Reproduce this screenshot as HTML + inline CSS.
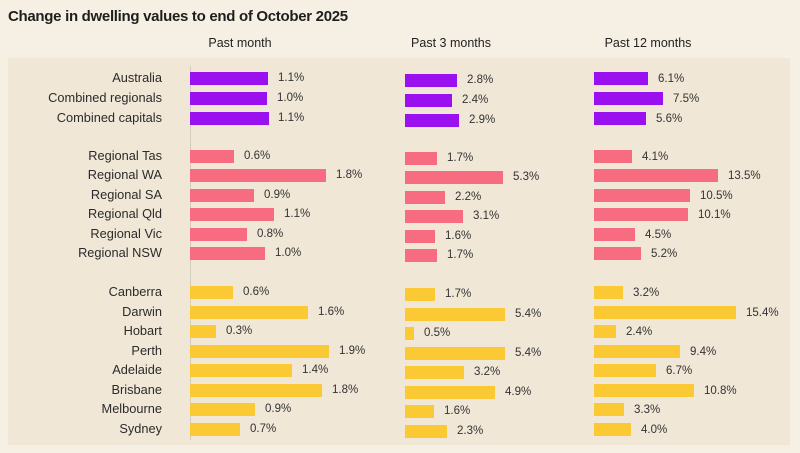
<!DOCTYPE html>
<html><head><meta charset="utf-8"><style>
body{margin:0;width:800px;height:453px;background:#f6f0e4;font-family:"Liberation Sans",sans-serif;position:relative;overflow:hidden;color:#2b2b2b}
.t{position:absolute;left:8px;top:8px;font-size:15px;font-weight:bold;color:#1e1e1e;letter-spacing:-0.3px}
.h{position:absolute;top:36px;font-size:12.5px;width:160px;text-align:center;color:#222}
.panel{position:absolute;left:8px;top:58px;width:782px;height:387px;background:#f0e7d7}
.ax{position:absolute;left:190px;top:66px;width:1px;height:374px;background:#d3ccc0}
.l{position:absolute;width:162px;left:0;text-align:right;font-size:12.8px;color:#2b2b2b;line-height:14px}
.b{position:absolute;height:13px}
.v{position:absolute;font-size:11.5px;line-height:14px;color:#333}
.p{background:#9a10ef}.r{background:#f76c80}.y{background:#fbc934}
</style></head><body>
<div class="t">Change in dwelling values to end of October 2025</div>
<div class="panel"></div>
<div class="h" style="left:160px">Past month</div>
<div class="h" style="left:371px">Past 3 months</div>
<div class="h" style="left:568px">Past 12 months</div>
<div class="ax"></div>

<div class="l" style="top:71px">Australia</div>
<div class="l" style="top:91px">Combined regionals</div>
<div class="l" style="top:111px">Combined capitals</div>
<div class="l" style="top:149px">Regional Tas</div>
<div class="l" style="top:168px">Regional WA</div>
<div class="l" style="top:188px">Regional SA</div>
<div class="l" style="top:207px">Regional Qld</div>
<div class="l" style="top:227px">Regional Vic</div>
<div class="l" style="top:246px">Regional NSW</div>
<div class="l" style="top:285px">Canberra</div>
<div class="l" style="top:305px">Darwin</div>
<div class="l" style="top:324px">Hobart</div>
<div class="l" style="top:344px">Perth</div>
<div class="l" style="top:363px">Adelaide</div>
<div class="l" style="top:383px">Brisbane</div>
<div class="l" style="top:402px">Melbourne</div>
<div class="l" style="top:422px">Sydney</div>

<!-- Past month -->
<div class="b p" style="left:190px;top:72px;width:78px"></div><div class="v" style="left:278px;top:71px">1.1%</div>
<div class="b p" style="left:190px;top:92px;width:77px"></div><div class="v" style="left:277px;top:91px">1.0%</div>
<div class="b p" style="left:190px;top:112px;width:79px"></div><div class="v" style="left:278px;top:111px">1.1%</div>
<div class="b r" style="left:190px;top:150px;width:44px"></div><div class="v" style="left:244px;top:149px">0.6%</div>
<div class="b r" style="left:190px;top:169px;width:136px"></div><div class="v" style="left:336px;top:168px">1.8%</div>
<div class="b r" style="left:190px;top:189px;width:64px"></div><div class="v" style="left:264px;top:188px">0.9%</div>
<div class="b r" style="left:190px;top:208px;width:84px"></div><div class="v" style="left:284px;top:207px">1.1%</div>
<div class="b r" style="left:190px;top:228px;width:57px"></div><div class="v" style="left:257px;top:227px">0.8%</div>
<div class="b r" style="left:190px;top:247px;width:75px"></div><div class="v" style="left:275px;top:246px">1.0%</div>
<div class="b y" style="left:190px;top:286px;width:43px"></div><div class="v" style="left:243px;top:285px">0.6%</div>
<div class="b y" style="left:190px;top:306px;width:118px"></div><div class="v" style="left:318px;top:305px">1.6%</div>
<div class="b y" style="left:190px;top:325px;width:26px"></div><div class="v" style="left:226px;top:324px">0.3%</div>
<div class="b y" style="left:190px;top:345px;width:139px"></div><div class="v" style="left:339px;top:344px">1.9%</div>
<div class="b y" style="left:190px;top:364px;width:102px"></div><div class="v" style="left:302px;top:363px">1.4%</div>
<div class="b y" style="left:190px;top:384px;width:132px"></div><div class="v" style="left:332px;top:383px">1.8%</div>
<div class="b y" style="left:190px;top:403px;width:65px"></div><div class="v" style="left:265px;top:402px">0.9%</div>
<div class="b y" style="left:190px;top:423px;width:50px"></div><div class="v" style="left:250px;top:422px">0.7%</div>

<!-- Past 3 months -->
<div class="b p" style="left:405px;top:74px;width:52px"></div><div class="v" style="left:467px;top:73px">2.8%</div>
<div class="b p" style="left:405px;top:94px;width:47px"></div><div class="v" style="left:462px;top:93px">2.4%</div>
<div class="b p" style="left:405px;top:114px;width:54px"></div><div class="v" style="left:469px;top:113px">2.9%</div>
<div class="b r" style="left:405px;top:152px;width:32px"></div><div class="v" style="left:447px;top:151px">1.7%</div>
<div class="b r" style="left:405px;top:171px;width:98px"></div><div class="v" style="left:513px;top:170px">5.3%</div>
<div class="b r" style="left:405px;top:191px;width:40px"></div><div class="v" style="left:455px;top:190px">2.2%</div>
<div class="b r" style="left:405px;top:210px;width:58px"></div><div class="v" style="left:473px;top:209px">3.1%</div>
<div class="b r" style="left:405px;top:230px;width:30px"></div><div class="v" style="left:445px;top:229px">1.6%</div>
<div class="b r" style="left:405px;top:249px;width:32px"></div><div class="v" style="left:447px;top:248px">1.7%</div>
<div class="b y" style="left:405px;top:288px;width:30px"></div><div class="v" style="left:445px;top:287px">1.7%</div>
<div class="b y" style="left:405px;top:308px;width:100px"></div><div class="v" style="left:515px;top:307px">5.4%</div>
<div class="b y" style="left:405px;top:327px;width:9px"></div><div class="v" style="left:424px;top:326px">0.5%</div>
<div class="b y" style="left:405px;top:347px;width:100px"></div><div class="v" style="left:515px;top:346px">5.4%</div>
<div class="b y" style="left:405px;top:366px;width:59px"></div><div class="v" style="left:474px;top:365px">3.2%</div>
<div class="b y" style="left:405px;top:386px;width:90px"></div><div class="v" style="left:505px;top:385px">4.9%</div>
<div class="b y" style="left:405px;top:405px;width:29px"></div><div class="v" style="left:444px;top:404px">1.6%</div>
<div class="b y" style="left:405px;top:425px;width:42px"></div><div class="v" style="left:457px;top:424px">2.3%</div>

<!-- Past 12 months -->
<div class="b p" style="left:594px;top:72px;width:54px"></div><div class="v" style="left:658px;top:72px">6.1%</div>
<div class="b p" style="left:594px;top:92px;width:69px"></div><div class="v" style="left:673px;top:92px">7.5%</div>
<div class="b p" style="left:594px;top:112px;width:52px"></div><div class="v" style="left:656px;top:112px">5.6%</div>
<div class="b r" style="left:594px;top:150px;width:38px"></div><div class="v" style="left:642px;top:150px">4.1%</div>
<div class="b r" style="left:594px;top:169px;width:124px"></div><div class="v" style="left:728px;top:169px">13.5%</div>
<div class="b r" style="left:594px;top:189px;width:96px"></div><div class="v" style="left:700px;top:189px">10.5%</div>
<div class="b r" style="left:594px;top:208px;width:94px"></div><div class="v" style="left:698px;top:208px">10.1%</div>
<div class="b r" style="left:594px;top:228px;width:41px"></div><div class="v" style="left:645px;top:228px">4.5%</div>
<div class="b r" style="left:594px;top:247px;width:47px"></div><div class="v" style="left:651px;top:247px">5.2%</div>
<div class="b y" style="left:594px;top:286px;width:29px"></div><div class="v" style="left:633px;top:286px">3.2%</div>
<div class="b y" style="left:594px;top:306px;width:142px"></div><div class="v" style="left:746px;top:306px">15.4%</div>
<div class="b y" style="left:594px;top:325px;width:22px"></div><div class="v" style="left:626px;top:325px">2.4%</div>
<div class="b y" style="left:594px;top:345px;width:86px"></div><div class="v" style="left:690px;top:345px">9.4%</div>
<div class="b y" style="left:594px;top:364px;width:62px"></div><div class="v" style="left:666px;top:364px">6.7%</div>
<div class="b y" style="left:594px;top:384px;width:100px"></div><div class="v" style="left:704px;top:384px">10.8%</div>
<div class="b y" style="left:594px;top:403px;width:30px"></div><div class="v" style="left:634px;top:403px">3.3%</div>
<div class="b y" style="left:594px;top:423px;width:37px"></div><div class="v" style="left:641px;top:423px">4.0%</div>
</body></html>
